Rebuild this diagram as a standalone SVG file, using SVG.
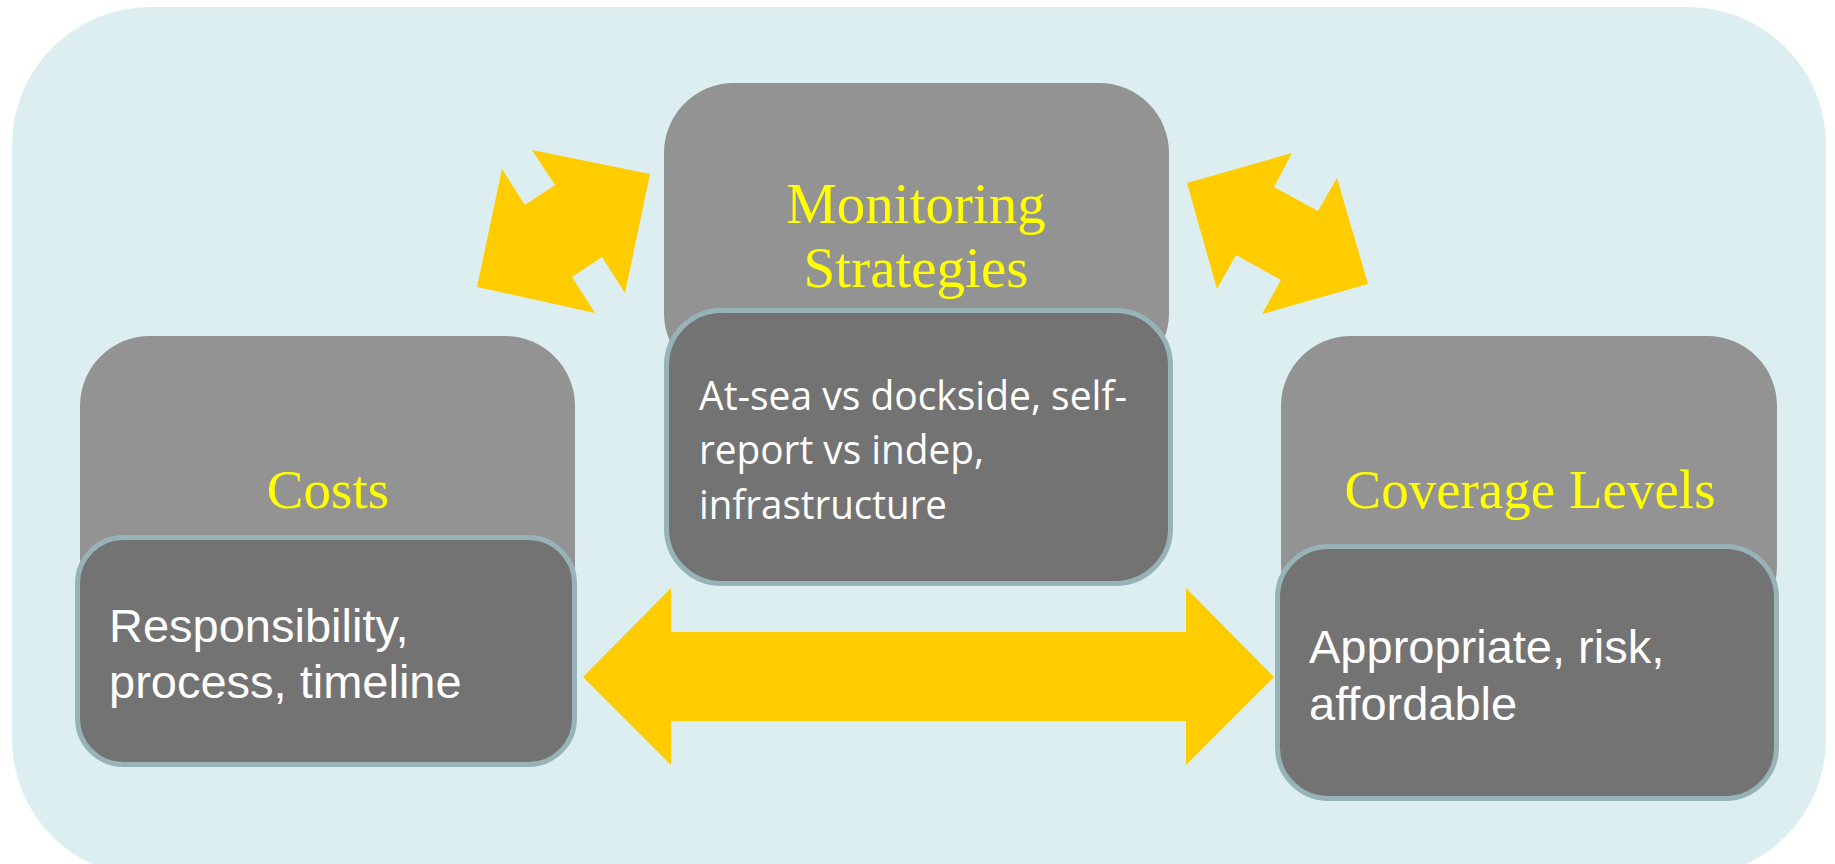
<svg xmlns="http://www.w3.org/2000/svg" width="1835" height="864" viewBox="0 0 1835 864">
  <style>
    .panel { fill: #dceef0; }
    .head { fill: #939393; }
    .body { fill: #737373; stroke: #98b3b7; stroke-width: 5; }
    .title { font-family: "Liberation Serif", "Times New Roman", serif; fill: #ffff00; text-anchor: middle; }
    .desc { font-family: "Liberation Sans", Arial, sans-serif; fill: #ffffff; font-size: 47px; }
    .desc2 { font-family: "Open Sans", "Noto Sans", sans-serif; fill: #ffffff; font-size: 40px; }
    .link { fill: #ffcc00; }
  </style>

  <!-- background panel -->
  <rect class="panel" x="12" y="7" width="1814" height="870" rx="138" ry="138"/>

  <!-- connectors -->
  <g id="connectors">
    <polygon class="link" points="532,150 650,174 625,293 602,257 572,277 595,313 477,287 502,169 525,205 555,185"/>
    <polygon class="link" points="1187,183 1292,153 1274,187 1318,211 1337,178 1368,284 1262,314 1281,280 1236,255 1217,289"/>
    <polygon class="link" points="583,677 671,588 671,632 1186,632 1186,588 1274,677 1186,765 1186,721 671,721 671,765"/>
  </g>

  <!-- Costs -->
  <g id="costs">
    <rect class="head" x="80" y="336" width="495" height="300" rx="70" ry="70"/>
    <text class="title" x="328" y="508" font-size="55">Costs</text>
    <rect class="body" x="77.5" y="537.5" width="497" height="227" rx="46" ry="46"/>
    <text class="desc" x="109" y="642">Responsibility,</text>
    <text class="desc" x="109" y="698">process, timeline</text>
  </g>

  <!-- Monitoring Strategies -->
  <g id="monitoring">
    <rect class="head" x="664" y="83" width="505" height="300" rx="70" ry="70"/>
    <text class="title" x="916" y="223" font-size="57">Monitoring</text>
    <text class="title" x="916" y="287" font-size="57">Strategies</text>
    <rect class="body" x="666.5" y="310.5" width="504" height="273" rx="55" ry="55"/>
    <text class="desc2" x="699" y="410" textLength="428" lengthAdjust="spacingAndGlyphs">At-sea vs dockside, self-</text>
    <text class="desc2" x="699" y="464" textLength="285" lengthAdjust="spacingAndGlyphs">report vs indep,</text>
    <text class="desc2" x="699" y="519" textLength="248" lengthAdjust="spacingAndGlyphs">infrastructure</text>
  </g>

  <!-- Coverage Levels -->
  <g id="coverage">
    <rect class="head" x="1281" y="336" width="496" height="300" rx="70" ry="70"/>
    <text class="title" x="1530" y="508" font-size="55">Coverage Levels</text>
    <rect class="body" x="1277.5" y="546.5" width="499" height="252" rx="51" ry="51"/>
    <text class="desc" x="1309" y="663">Appropriate, risk,</text>
    <text class="desc" x="1309" y="720">affordable</text>
  </g>
</svg>
